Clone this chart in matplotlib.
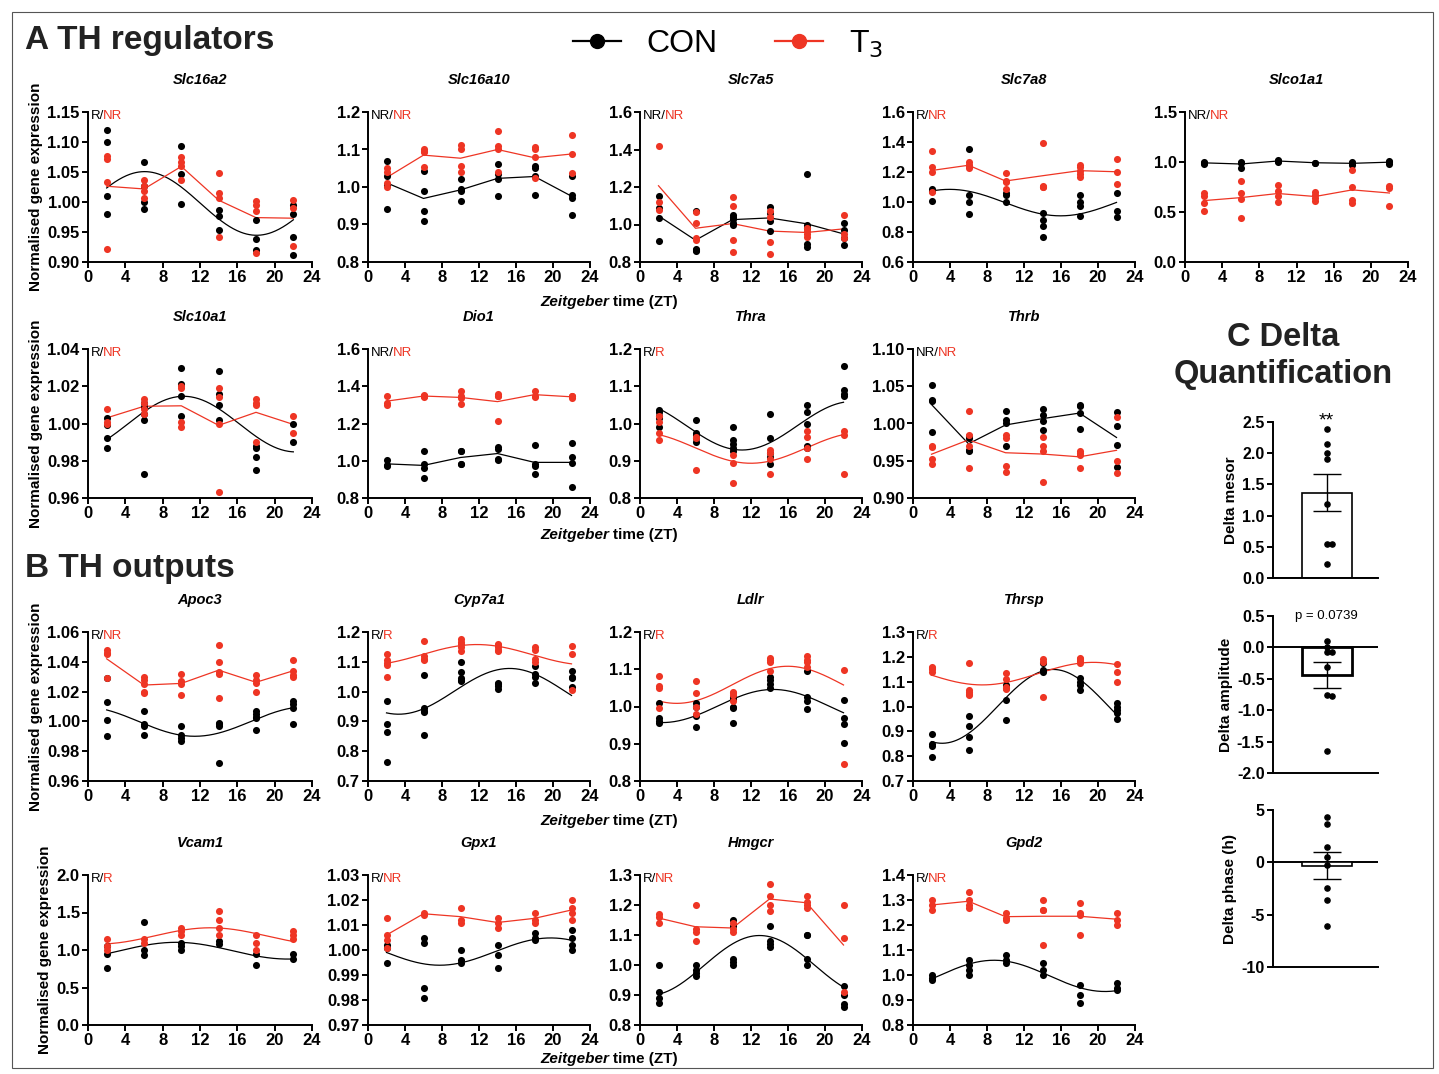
import numpy as np
import matplotlib.pyplot as plt
from matplotlib.lines import Line2D
from matplotlib.patches import Rectangle
from matplotlib.ticker import FormatStrFormatter

plt.rcParams['font.family'] = ['Liberation Sans', 'DejaVu Sans']
plt.rcParams['axes.unicode_minus'] = False

ZT = [2, 6, 10, 14, 18, 22]
RED = '#ee3524'

# ---- TH regulators ----
slc16a2_con = [[1.12, 1.10, 1.01, 0.98], [1.067, 1.027, 1.0, 0.988], [1.093, 1.047, 0.996],
               [0.987, 0.976, 0.954], [0.97, 0.938, 0.92], [0.995, 0.98, 0.942, 0.911]]
slc16a2_t3 = [[1.077, 1.072, 1.034, 0.922], [1.036, 1.027, 1.018, 1.006], [1.075, 1.066, 1.06, 1.036],
              [1.049, 1.015, 1.007, 0.941], [1.001, 0.995, 0.985, 0.915], [1.003, 0.99, 0.926]]

slc16a10_con = [[1.07, 1.03, 1.005, 0.94], [1.043, 0.99, 0.935, 0.91], [1.022, 0.995, 0.99, 0.962],
                [1.062, 1.035, 1.02, 0.975], [1.055, 1.05, 1.028, 0.979], [1.028, 0.978, 0.97, 0.926]]
slc16a10_t3 = [[1.05, 1.04, 1.01, 1.0], [1.1, 1.095, 1.093, 1.052], [1.112, 1.1, 1.055, 1.04],
               [1.15, 1.11, 1.1, 1.04], [1.107, 1.1, 1.08, 1.025], [1.14, 1.087, 1.037]]

slc7a5_con = [[1.15, 1.09, 1.035, 0.91], [1.07, 0.87, 0.86, 0.865], [1.05, 1.04, 1.03, 1.01, 1.0],
              [1.095, 1.06, 1.02, 0.965], [1.27, 0.995, 0.98, 0.895, 0.88], [1.01, 0.97, 0.93, 0.89]]
slc7a5_t3 = [[1.42, 1.12, 1.08], [1.065, 1.01, 0.93, 0.915], [1.145, 1.1, 0.92, 0.855],
             [1.07, 1.04, 0.905, 0.845], [0.98, 0.965, 0.95, 0.935], [1.05, 0.95, 0.93]]

slc7a8_con = [[1.085, 1.075, 1.01], [1.355, 1.045, 1.0, 0.92], [1.06, 1.05, 1.0],
              [0.925, 0.88, 0.84, 0.765], [1.05, 1.0, 0.975, 0.905], [1.06, 0.94, 0.9]]
slc7a8_t3 = [[1.34, 1.235, 1.2, 1.065], [1.265, 1.25, 1.24, 1.225], [1.195, 1.14, 1.135, 1.09],
             [1.395, 1.10, 1.10, 1.105], [1.25, 1.235, 1.21, 1.185, 1.165], [1.285, 1.2, 1.12]]

slco1a1_con = [[1.0, 0.99, 0.985], [1.005, 0.995, 0.94], [1.02, 1.01, 1.0],
               [0.995, 0.99], [1.0, 0.99, 0.97], [1.01, 1.0, 0.985]]
slco1a1_t3 = [[0.69, 0.665, 0.59, 0.51], [0.815, 0.69, 0.63, 0.44], [0.77, 0.71, 0.66, 0.6],
              [0.7, 0.67, 0.64, 0.61], [0.925, 0.75, 0.62, 0.59], [0.76, 0.745, 0.565]]

slc10a1_con = [[1.003, 0.999, 0.992, 0.987], [1.011, 1.009, 1.005, 1.002, 0.973], [1.03, 1.021, 1.015, 1.004],
               [1.028, 1.016, 1.01, 1.002], [0.988, 0.987, 0.982, 0.975], [1.0, 0.99]]
slc10a1_t3 = [[1.008, 1.001, 1.0], [1.013, 1.011, 1.008, 1.005], [1.02, 1.019, 1.001, 0.998],
              [1.019, 1.014, 1.0, 0.963], [1.013, 1.011, 1.01, 0.99], [1.004, 0.995]]

dio1_con = [[1.005, 0.975, 0.97], [1.05, 0.985, 0.96, 0.905], [1.055, 1.05, 0.985, 0.98],
            [1.075, 1.065, 1.01, 1.005], [1.085, 0.98, 0.97, 0.93], [1.095, 1.02, 0.99, 0.86]]
dio1_t3 = [[1.35, 1.31, 1.30], [1.355, 1.35, 1.345, 1.34], [1.375, 1.345, 1.335, 1.305],
           [1.36, 1.35, 1.345, 1.215], [1.375, 1.35, 1.34], [1.35, 1.345, 1.335]]

thra_con = [[1.035, 1.03, 1.02, 1.015, 0.99], [1.01, 0.975, 0.97, 0.96, 0.95], [0.99, 0.955, 0.945, 0.935, 0.925],
            [1.025, 0.96, 0.92, 0.91, 0.89], [1.05, 1.03, 1.0, 0.94, 0.935], [1.155, 1.09, 1.08, 1.075]]
thra_t3 = [[1.02, 1.005, 0.975, 0.955], [0.965, 0.96, 0.875], [0.915, 0.895, 0.84],
           [0.93, 0.92, 0.905, 0.865], [0.98, 0.965, 0.935, 0.905], [0.98, 0.97, 0.865]]

thrb_con = [[1.052, 1.032, 1.03, 0.988], [0.983, 0.98, 0.965, 0.963], [1.017, 1.005, 1.0, 0.97],
            [1.02, 1.012, 1.003, 0.991], [1.025, 1.024, 1.014, 0.993], [1.016, 0.997, 0.971, 0.941]]
thrb_t3 = [[0.97, 0.968, 0.952, 0.945], [1.017, 0.985, 0.97, 0.94], [0.985, 0.98, 0.943, 0.935],
           [0.982, 0.97, 0.963, 0.921], [0.963, 0.96, 0.958, 0.94], [1.009, 0.95, 0.933]]

# ---- TH outputs ----
apoc3_con = [[1.029, 1.013, 1.001, 0.99], [1.007, 0.998, 0.997, 0.991], [0.997, 0.991, 0.989, 0.987],
             [0.999, 0.998, 0.997, 0.972], [1.007, 1.005, 1.003, 1.002, 0.994], [1.014, 1.012, 1.009, 0.998]]
apoc3_t3 = [[1.048, 1.046, 1.045, 1.029], [1.03, 1.028, 1.025, 1.02, 1.019], [1.032, 1.027, 1.025, 1.018],
            [1.051, 1.04, 1.033, 1.032, 1.016], [1.031, 1.028, 1.026, 1.02], [1.041, 1.034, 1.031, 1.03]]

cyp7a1_con = [[0.968, 0.89, 0.865, 0.765], [1.055, 0.945, 0.935, 0.93, 0.853], [1.1, 1.065, 1.045, 1.04, 1.035],
              [1.03, 1.025, 1.02, 1.01], [1.085, 1.06, 1.05, 1.03], [1.068, 1.05, 1.045, 1.015]]
cyp7a1_t3 = [[1.127, 1.105, 1.095, 1.09, 1.048], [1.17, 1.12, 1.11, 1.105], [1.175, 1.165, 1.16, 1.15, 1.135],
             [1.16, 1.155, 1.15, 1.14, 1.135], [1.15, 1.14, 1.11, 1.1], [1.152, 1.125, 1.005]]

ldlr_con = [[1.01, 0.97, 0.96, 0.955], [1.01, 1.0, 0.975, 0.945], [1.025, 1.02, 1.0, 0.995, 0.955],
            [1.08, 1.07, 1.06, 1.05], [1.095, 1.025, 1.015, 0.993], [1.017, 0.97, 0.953, 0.903]]
ldlr_t3 = [[1.082, 1.055, 1.05, 0.995], [1.068, 1.035, 1.0, 0.98], [1.04, 1.035, 1.03, 1.015],
           [1.13, 1.125, 1.12, 1.095], [1.135, 1.125, 1.12, 1.105], [1.097, 0.845]]

thrsp_con = [[0.89, 0.85, 0.84, 0.795], [0.962, 0.922, 0.877, 0.823], [1.085, 1.075, 1.025, 0.945],
             [1.175, 1.145, 1.14], [1.115, 1.1, 1.085, 1.065], [1.015, 1.0, 0.985, 0.975, 0.95]]
thrsp_t3 = [[1.16, 1.155, 1.15, 1.14], [1.175, 1.065, 1.06, 1.05, 1.045], [1.135, 1.11, 1.08, 1.07],
            [1.19, 1.18, 1.04], [1.195, 1.19, 1.185, 1.175], [1.17, 1.14, 1.1]]

vcam1_con = [[1.05, 0.95, 0.76], [1.38, 1.0, 0.93], [1.1, 1.05, 1.0],
             [1.12, 1.08], [0.95, 0.8], [0.95, 0.88]]
vcam1_t3 = [[1.15, 1.05, 1.0], [1.15, 1.1], [1.3, 1.25, 1.2],
            [1.52, 1.4, 1.3, 1.2], [1.2, 1.1, 1.0], [1.25, 1.2, 1.15]]

gpx1_con = [[1.002, 1.001, 0.995], [1.005, 1.003, 0.985, 0.981], [1.0, 0.996, 0.995],
            [1.002, 0.998, 0.993], [1.007, 1.005, 1.004], [1.008, 1.005, 1.002, 1.0]]
gpx1_t3 = [[1.013, 1.006, 1.004, 1.001], [1.015, 1.014], [1.017, 1.012, 1.011],
           [1.013, 1.011, 1.009], [1.015, 1.012, 1.011], [1.02, 1.017, 1.015, 1.012]]

hmgcr_con = [[1.0, 0.91, 0.89, 0.875], [1.0, 0.985, 0.975, 0.965], [1.15, 1.13, 1.02, 1.01, 1.0],
             [1.13, 1.08, 1.07, 1.06], [1.1, 1.1, 1.02, 1.0], [0.93, 0.9, 0.87, 0.86]]
hmgcr_t3 = [[1.17, 1.16, 1.14], [1.2, 1.12, 1.11, 1.08], [1.14, 1.12, 1.11],
            [1.27, 1.23, 1.2, 1.18], [1.23, 1.21, 1.2, 1.19], [1.2, 1.09, 0.91]]

gpd2_con = [[1.0, 0.99, 0.98], [1.06, 1.04, 1.02, 1.0], [1.08, 1.06, 1.05],
            [1.05, 1.02, 1.0], [0.96, 0.92, 0.89], [0.97, 0.95, 0.94]]
gpd2_t3 = [[1.3, 1.28, 1.26], [1.33, 1.3, 1.28, 1.27], [1.25, 1.23, 1.22],
           [1.3, 1.26, 1.26, 1.12], [1.29, 1.25, 1.24, 1.16], [1.25, 1.22, 1.2]]

# ---- Delta quantification ----
delta_mesor = [2.38, 2.15, 2.0, 1.9, 1.18, 0.55, 0.55, 0.22]
delta_amplitude = [0.1, 0.0, -0.08, -0.08, -0.32, -0.75, -0.78, -1.65]
delta_phase = [4.3, 3.7, 1.5, 0.5, -0.3, -2.5, -3.6, -6.1]

# name, con, t3, rhythmic flags, (ymin, ymax, step, decimals), row, col
panels = [
    ('Slc16a2', slc16a2_con, slc16a2_t3, 'R', 'NR', (0.90, 1.15, 0.05, 2), 0, 0),
    ('Slc16a10', slc16a10_con, slc16a10_t3, 'NR', 'NR', (0.8, 1.2, 0.1, 1), 0, 1),
    ('Slc7a5', slc7a5_con, slc7a5_t3, 'NR', 'NR', (0.8, 1.6, 0.2, 1), 0, 2),
    ('Slc7a8', slc7a8_con, slc7a8_t3, 'R', 'NR', (0.6, 1.6, 0.2, 1), 0, 3),
    ('Slco1a1', slco1a1_con, slco1a1_t3, 'NR', 'NR', (0.0, 1.5, 0.5, 1), 0, 4),
    ('Slc10a1', slc10a1_con, slc10a1_t3, 'R', 'NR', (0.96, 1.04, 0.02, 2), 1, 0),
    ('Dio1', dio1_con, dio1_t3, 'NR', 'NR', (0.8, 1.6, 0.2, 1), 1, 1),
    ('Thra', thra_con, thra_t3, 'R', 'R', (0.8, 1.2, 0.1, 1), 1, 2),
    ('Thrb', thrb_con, thrb_t3, 'NR', 'NR', (0.90, 1.10, 0.05, 2), 1, 3),
    ('Apoc3', apoc3_con, apoc3_t3, 'R', 'NR', (0.96, 1.06, 0.02, 2), 2, 0),
    ('Cyp7a1', cyp7a1_con, cyp7a1_t3, 'R', 'R', (0.7, 1.2, 0.1, 1), 2, 1),
    ('Ldlr', ldlr_con, ldlr_t3, 'R', 'R', (0.8, 1.2, 0.1, 1), 2, 2),
    ('Thrsp', thrsp_con, thrsp_t3, 'R', 'R', (0.7, 1.3, 0.1, 1), 2, 3),
    ('Vcam1', vcam1_con, vcam1_t3, 'R', 'R', (0.0, 2.0, 0.5, 1), 3, 0),
    ('Gpx1', gpx1_con, gpx1_t3, 'R', 'NR', (0.97, 1.03, 0.01, 2), 3, 1),
    ('Hmgcr', hmgcr_con, hmgcr_t3, 'R', 'NR', (0.8, 1.3, 0.1, 1), 3, 2),
    ('Gpd2', gpd2_con, gpd2_t3, 'R', 'NR', (0.8, 1.4, 0.1, 1), 3, 3),
]

W, H = 1439, 1074
fig = plt.figure(figsize=(W / 100, H / 100), dpi=100)
fig.patches.append(Rectangle((12 / W, 6 / H), 1421 / W, 1056 / H, transform=fig.transFigure,
                             fill=False, edgecolor='#555555', lw=0.8))

col_x = [(88, 312), (368, 590), (640, 862), (913, 1135), (1185, 1408)]
row_y = [(112, 262), (349, 498), (632, 781), (875, 1025)]


def add_ax(x0, x1, y0, y1):
    return fig.add_axes([x0 / W, 1 - y1 / H, (x1 - x0) / W, (y1 - y0) / H])


def style(ax, size=12):
    for s in ['top', 'right']:
        ax.spines[s].set_visible(False)
    for s in ['left', 'bottom']:
        ax.spines[s].set_linewidth(1.4)
    ax.tick_params(width=1.4, length=4, labelsize=size, pad=2)
    for lab in ax.get_xticklabels() + ax.get_yticklabels():
        lab.set_fontweight('bold')


def cosinor(groups):
    t = np.concatenate([[z] * len(g) for z, g in zip(ZT, groups)])
    y = np.concatenate(groups)
    w = 2 * np.pi / 24
    X = np.column_stack([np.ones_like(t, dtype=float), np.cos(w * t), np.sin(w * t)])
    c = np.linalg.lstsq(X, y, rcond=None)[0]
    tt = np.linspace(ZT[0], ZT[-1], 200)
    return tt, c[0] + c[1] * np.cos(w * tt) + c[2] * np.sin(w * tt)


def draw_series(ax, groups, rhythm, color):
    for z, g in zip(ZT, groups):
        ax.scatter([z] * len(g), g, s=26, color=color, zorder=3, linewidths=0)
    if rhythm == 'R':
        tt, yy = cosinor(groups)
        ax.plot(tt, yy, color=color, lw=0.9, zorder=2)
    else:
        ax.plot(ZT, [np.mean(g) for g in groups], color=color, lw=0.9, zorder=2)


for name, con, t3, rc, rt, (y0, y1, step, dec), r, c in panels:
    ax = add_ax(col_x[c][0], col_x[c][1], row_y[r][0], row_y[r][1])
    draw_series(ax, con, rc, 'black')
    draw_series(ax, t3, rt, RED)
    ax.set_xlim(0, 24)
    ax.set_xticks(range(0, 25, 4))
    ax.set_ylim(y0, y1)
    ax.set_yticks(np.round(np.arange(y0, y1 + step / 2, step), 3))
    ax.yaxis.set_major_formatter(FormatStrFormatter('%.' + str(dec) + 'f'))
    style(ax)
    ax.set_title(name, fontsize=10.5, fontweight='bold', style='italic', pad=20)
    t1 = ax.text(0.015, 1.015, rc + '/', transform=ax.transAxes, fontsize=9.5, va='top', ha='left')
    ax.annotate(rt, xycoords=t1, xy=(1, 0), xytext=(-1.2, 0), textcoords='offset points',
                va='bottom', ha='left', fontsize=9.5, color=RED)
    if c == 0:
        ax.set_ylabel('Normalised gene expression', fontsize=11, fontweight='bold', labelpad=3)

# Zeitgeber time labels
for yl in [302, 535, 821, 1059]:
    fig.text(613 / W, 1 - yl / H, 'Zeitgeber ', ha='right', va='center', fontsize=11,
             fontweight='bold', style='italic')
    fig.text(613 / W, 1 - yl / H, 'time (ZT)', ha='left', va='center', fontsize=11, fontweight='bold')

# section labels
fig.text(25 / W, 1 - 41 / H, 'A TH regulators', fontsize=24, fontweight='bold', va='center', color='#222222')
fig.text(25 / W, 1 - 568 / H, 'B TH outputs', fontsize=24, fontweight='bold', va='center', color='#222222')
fig.text(1283 / W, 1 - 356 / H, 'C Delta\nQuantification', fontsize=23.5, fontweight='bold',
         ha='center', va='center', linespacing=1.25, color='#222222')

# legend
handles = [Line2D([], [], color='black', marker='o', markersize=10, lw=1.6),
           Line2D([], [], color=RED, marker='o', markersize=10, lw=1.6)]
fig.legend(handles, ['CON', r'T$_3$'], ncol=2, frameon=False, fontsize=23, loc='center',
           bbox_to_anchor=(728 / W, 1 - 44 / H), handlelength=1.5, columnspacing=1.8, handletextpad=0.8)


def swarm_x(vals, span, half=0.1):
    xs = []
    placed = []
    for v in vals:
        near = [p for p in placed if abs(p - v) < span]
        k = len(near)
        xs.append(0 if k == 0 else (half if k % 2 else -half) * ((k + 1) // 2))
        placed.append(v)
    return xs


def delta_panel(y0, y1, vals, lim, ticks, label, lw_bar):
    ax = add_ax(1273, 1378, y0, y1)
    m = np.mean(vals)
    sem = np.std(vals, ddof=1) / np.sqrt(len(vals))
    ax.bar(0, m, width=0.97, color='white', edgecolor='black', lw=lw_bar, zorder=1)
    ax.errorbar(0, m, yerr=sem, color='black', capsize=10, lw=1.0, capthick=1.0, zorder=2)
    ax.scatter(swarm_x(vals, (lim[1] - lim[0]) * 0.03), vals, s=14, color='black', zorder=3)
    ax.axhline(0, color='black', lw=1.4, zorder=0)
    ax.set_xlim(-1.05, 1.0)
    ax.set_ylim(*lim)
    ax.set_yticks(ticks)
    ax.set_xticks([])
    style(ax, 11.5)
    ax.set_ylabel(label, fontsize=11, fontweight='bold', labelpad=3)
    return ax


axm = delta_panel(422, 578, delta_mesor, (0, 2.5), np.arange(0, 2.51, 0.5), 'Delta mesor', 1.2)
axm.yaxis.set_major_formatter(FormatStrFormatter('%.1f'))
axm.text(0, 2.52, '**', ha='center', va='center', fontsize=14)
axa = delta_panel(616, 773, delta_amplitude, (-2.0, 0.5), np.arange(-2.0, 0.51, 0.5), 'Delta amplitude', 2.0)
axa.yaxis.set_major_formatter(FormatStrFormatter('%.1f'))
axa.text(0, 0.5, 'p = 0.0739', ha='center', va='center', fontsize=9.5)
axp = delta_panel(810, 967, delta_phase, (-10, 5), [-10, -5, 0, 5], 'Delta phase (h)', 1.2)

fig.savefig('out.png', dpi=100)
